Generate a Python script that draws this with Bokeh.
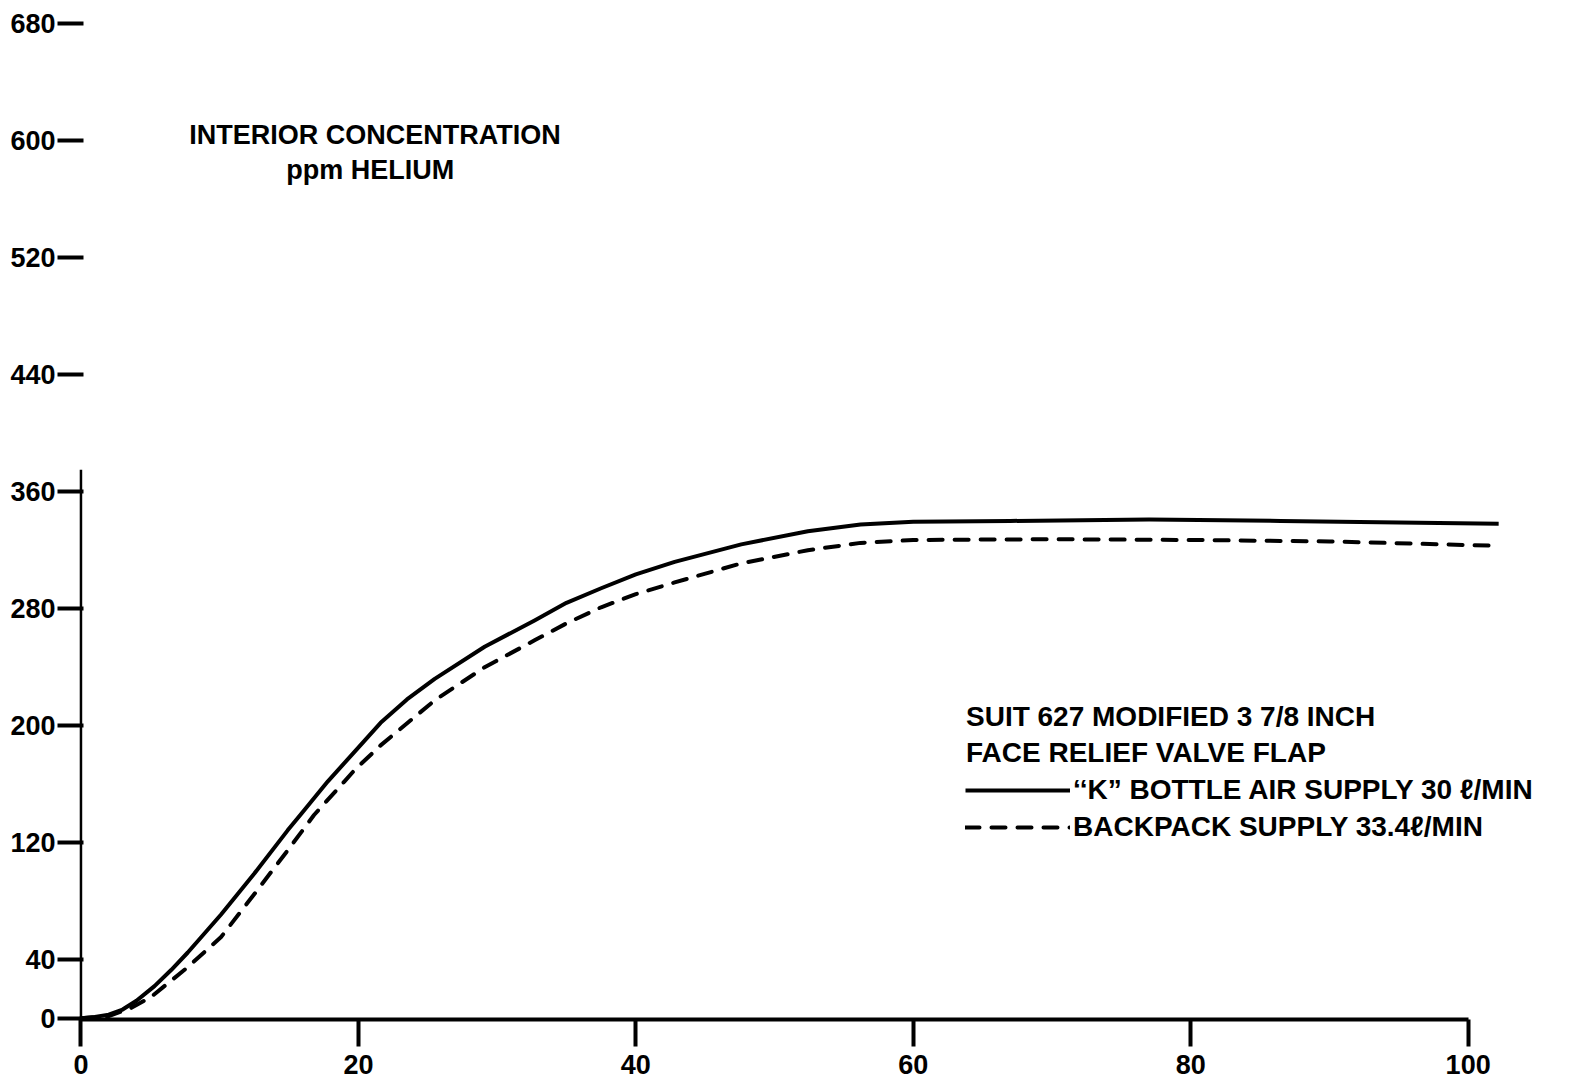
from bokeh.plotting import figure
from bokeh.models import (Range1d, FixedTicker, Label, Legend, LegendItem)
from bokeh.embed import file_html
from bokeh.resources import INLINE

# ---- data ----
time_k = [0, 1, 2, 3, 4, 5.3, 6.5, 7.7, 10.1, 12.5, 14.9, 15.9, 17.8, 19.7,
          21.6, 23.5, 25.5, 29.1, 32.7, 35, 37.5, 40, 42.8, 47.6, 52.4, 56.2,
          60, 67, 77, 86.5, 95, 102.2]
conc_k = [0, 1, 2.5, 6, 12, 22, 33, 45, 71, 99, 128.5, 140, 162, 182,
          202, 218, 232, 254, 272, 284, 294, 303.5, 312, 324, 333, 337.5,
          339.5, 340, 341, 340, 339, 338]

time_b = [0, 2, 3.6, 5.05, 7.7, 10.1, 12.5, 14.9, 16.8, 19, 19.7, 21.6, 25.5,
          29.1, 32.7, 35, 37.5, 40, 42.8, 47.6, 52.4, 56.2, 60, 70, 80, 90, 102.2]
conc_b = [0, 1.5, 7, 14.6, 35, 55.6, 85, 114.8, 139, 162, 169.5, 186.6, 217.4,
          240, 258.4, 270, 281, 290, 298, 311, 320, 325, 327, 327.5, 327, 326, 323]

x_ticks = [0, 20, 40, 60, 80, 100]
y_ticks = [0, 40, 120, 200, 280, 360, 440, 520, 600, 680]

label_k = "\u2018\u2018K\u201d BOTTLE AIR SUPPLY 30 \u2113/MIN"
label_b = "BACKPACK SUPPLY 33.4\u2113/MIN"
header1 = "SUIT 627 MODIFIED 3 7/8 INCH"
header2 = "FACE RELIEF VALVE FLAP"
title1 = "INTERIOR CONCENTRATION"
title2 = "ppm HELIUM"

TICK_FONT = "Liberation Sans"
TEXT_FONT = "Liberation Sans"

p = figure(frame_width=1460, frame_height=1011, output_backend="svg",
           toolbar_location=None,
           x_range=Range1d(-0.25, 105), y_range=Range1d(-0.8, 690.3),
           min_border_left=77, min_border_right=20, min_border_top=8,
           min_border_bottom=68)
p.outline_line_color = None
p.grid.visible = False
p.background_fill_color = "white"
p.border_fill_color = "white"

# x axis
xa = p.xaxis[0]
xa.ticker = FixedTicker(ticks=x_ticks)
xa.bounds = (0, 100)
xa.axis_line_width = 4
xa.axis_line_color = "black"
xa.major_tick_line_width = 4
xa.major_tick_out = 27
xa.major_tick_in = 0
xa.minor_tick_line_color = None
xa.major_label_standoff = 8
xa.major_label_text_font = TICK_FONT
xa.major_label_text_font_style = "bold"
xa.major_label_text_font_size = "27px"
xa.major_label_text_color = "black"

# y axis (ticks only; the axis line is drawn short below)
ya = p.yaxis[0]
ya.ticker = FixedTicker(ticks=y_ticks)
ya.axis_line_color = None
ya.major_tick_line_width = 4
ya.major_tick_out = 20
ya.major_tick_in = 6
ya.minor_tick_line_color = None
ya.major_label_standoff = 2
ya.major_label_text_font = TICK_FONT
ya.major_label_text_font_style = "bold"
ya.major_label_text_font_size = "27px"
ya.major_label_text_color = "black"

# short vertical axis line (visible only in the lower part in the original)
p.segment(x0=[0], y0=[0], x1=[0], y1=[375], line_color="black", line_width=2.5)

r_k = p.line(time_k, conc_k, line_color="black", line_width=4, line_join="round")
r_b = p.line(time_b, conc_b, line_color="black", line_width=4, line_dash="14 12",
             line_cap="round", line_join="round")

# title text
for txt, x, y in [(title1, 7.8, 604), (title2, 14.8, 580)]:
    p.add_layout(Label(x=x, y=y, text=txt, text_font=TEXT_FONT, text_font_style="bold",
                       text_font_size="27px", text_baseline="middle", text_color="black"))

for txt, x, y in [(header1, 63.8, 206), (header2, 63.8, 181.5)]:
    p.add_layout(Label(x=x, y=y, text=txt, text_font=TEXT_FONT, text_font_style="bold",
                       text_font_size="28px", text_baseline="middle", text_color="black"))

legend = Legend(items=[LegendItem(label=label_k, renderers=[r_k]),
                       LegendItem(label=label_b, renderers=[r_b])],
                location=(888, 176), orientation="vertical",
                glyph_width=105, glyph_height=30, label_height=30,
                label_standoff=3, spacing=5, padding=0, margin=0,
                border_line_color=None, background_fill_alpha=0,
                label_text_font=TEXT_FONT, label_text_font_style="bold",
                label_text_font_size="28px", label_text_color="black")
p.add_layout(legend)

open("out.html", "w").write(file_html(p, INLINE))
